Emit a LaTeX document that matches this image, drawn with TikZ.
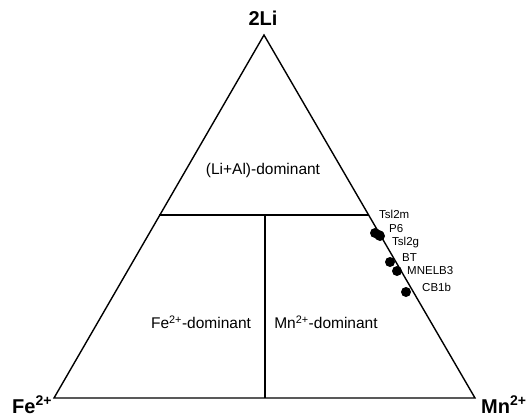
\documentclass[tikz,border=0pt]{standalone}
\usepackage{fontspec}
\setmainfont{Liberation Sans}
\begin{document}
\begin{tikzpicture}[x=1pt,y=-1pt,
  edge/.style={line width=1.4pt,line join=miter},
  corner/.style={inner sep=0pt,font=\fontsize{20}{22}\selectfont\bfseries},
  region/.style={inner sep=0pt,font=\fontsize{15.5}{18}\selectfont},
  ptlabel/.style={inner sep=0pt,anchor=west,font=\fontsize{11.5}{13}\selectfont},
  dot/.style={circle,fill=black,inner sep=0pt,minimum size=10pt}]
\useasboundingbox (0,0) rectangle (531,416);
% vertices
\coordinate (A) at (264,35);
\coordinate (B) at (54,398);
\coordinate (C) at (475,398);
\coordinate (ML) at (159,215);
\coordinate (MR) at (369,215);
\coordinate (MT) at (265,215);
\coordinate (MB) at (265,398);
\draw[edge] (A) -- (B) -- (C) -- cycle;
\draw[edge] (ML) -- (MR);
\draw[edge] (MT) -- (MB);
% corner labels
\node[corner,anchor=base] (li) at (263,25) {2Li};
\node[corner,anchor=base west] (fe) at (12,413) {Fe\textsuperscript{2+}};
\node[corner,anchor=base west] (mn) at (481,413) {Mn\textsuperscript{2+}};
% region labels
\node[region] (r1) at (263,170) {(Li+Al)-dominant};
\node[region] (r2) at (201,322) {Fe\textsuperscript{2+}-dominant};
\node[region] (r3) at (326,322) {Mn\textsuperscript{2+}-dominant};
% data points
\node[dot] (p1) at (375,233) {};
\node[dot] (p2) at (380,236) {};
\node[dot] (p3) at (379,235) {};
\node[dot] (p4) at (390,262) {};
\node[dot] (p5) at (397,271) {};
\node[dot] (p6) at (406,292) {};
\node[ptlabel] (l1) at (379,214) {Tsl2m};
\node[ptlabel] (l2) at (389,229) {P6};
\node[ptlabel] (l3) at (392,243) {Tsl2g};
\node[ptlabel] (l4) at (402,258) {BT};
\node[ptlabel] (l5) at (407,271) {MNELB3};
\node[ptlabel] (l6) at (422,287) {CB1b};
\end{tikzpicture}
\end{document}
